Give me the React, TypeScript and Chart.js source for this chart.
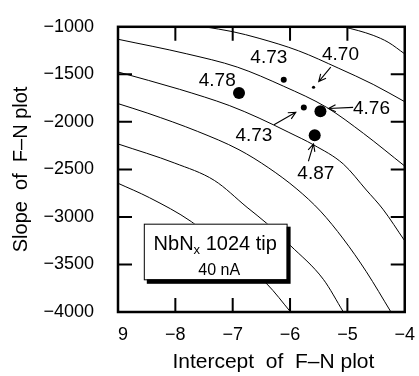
import React, { useEffect, useRef } from "react";
import { Chart, registerables } from "chart.js";

Chart.register(...registerables);

const FONT = "'Liberation Sans', Arial, Helvetica, sans-serif";

// ---- axes ----
const xMin = -9;
const xMax = -4;
const yMin = -4000;
const yMax = -1000;
const xTickValues = [-9, -8, -7, -6, -5, -4];
const xTickLabels = ["\u20079", "\u22128", "\u22127", "\u22126", "\u22125", "\u22124"];
const yTickValues = [-4000, -3500, -3000, -2500, -2000, -1500, -1000];
const yTickLabels = ["\u22124000", "\u22123500", "\u22123000", "\u22122500", "\u22122000", "\u22121500", "\u22121000"];
const xTitle = "Intercept  of  F\u2013N plot";
const yTitle = "Slope  of  F\u2013N plot";

// ---- contour curves ----
const curve1X = [-5.07, -4.81, -4.55, -4.29, -4.0];
const curve1Y = [-1000, -1040, -1090, -1162, -1285];
const curve2X = [-7.49, -7.01, -6.54, -5.85, -5.16, -4.55, -4.0];
const curve2Y = [-1000, -1050, -1121, -1253, -1434, -1606, -1788];
const curve3X = [-9.0, -7.81, -6.92, -6.11, -5.36, -4.72, -4.0];
const curve3Y = [-1131, -1283, -1424, -1626, -1848, -2121, -2465];
const curve4X = [-9.0, -7.93, -7.06, -6.54, -6.02, -5.59, -5.07, -4.67, -4.38, -4.0];
const curve4Y = [-1475, -1657, -1828, -1960, -2111, -2242, -2444, -2717, -2919, -3252];
const curve5X = [-9.0, -8.48, -7.61, -6.89, -6.37, -5.88, -5.47, -5.07, -4.67, -4.24];
const curve5Y = [-1808, -1909, -2101, -2293, -2485, -2707, -2939, -3232, -3576, -4000];
const curve6X = [-9.0, -8.01, -7.32, -6.75, -6.40, -5.99, -5.42, -5.07];
const curve6Y = [-2232, -2434, -2616, -2899, -3071, -3303, -3656, -4000];
const curve7X = [-9.0, -8.45, -7.72, -7.06, -6.40, -5.99];
const curve7Y = [-2646, -2798, -3050, -3374, -3707, -4000];

const curvesX = [curve1X, curve2X, curve3X, curve4X, curve5X, curve6X, curve7X];
const curvesY = [curve1Y, curve2Y, curve3Y, curve4Y, curve5Y, curve6Y, curve7Y];

// ---- measured points ----
const pointX = [-6.89, -6.11, -5.59, -5.76, -5.47, -5.57];
const pointY = [-1697, -1556, -1636, -1848, -1889, -2141];
const pointLabels = ["4.78", "4.73", "4.70", "4.73", "4.76", "4.87"];

// ---- annotations (data coordinates) ----
const labelX = [-7.27, -6.37, -5.12, -6.63, -4.58, -5.55];
const labelY = [-1566, -1323, -1293, -2141, -1859, -2545];
// arrows: [fromX, fromY, toX, toY]
const arrows = [
  [-5.29, -1424, -5.50, -1576],
  [-4.90, -1848, -5.33, -1859],
  [-6.28, -2030, -5.90, -1899],
  [-5.68, -2414, -5.59, -2232],
];
const boxCorners = [-8.55, -3071, -6.06, -3656];
const boxLine1 = ["NbN", "x", " 1024 tip"];
const boxLine2 = "40 nA";

// ---- styles ----
const dotRadius = [6, 3, 1.6, 3, 6, 6];

export default function App() {
  const canvasRef = useRef<HTMLCanvasElement | null>(null);

  useEffect(() => {
    const canvas = canvasRef.current;
    if (!canvas) return;

    const decor = {
      id: "decor",
      afterDatasetsDraw(chart: any) {
        const ctx = chart.ctx;
        const xs = chart.scales.x;
        const ys = chart.scales.y;
        const a = chart.chartArea;
        ctx.save();
        ctx.strokeStyle = "#000";
        ctx.fillStyle = "#000";

        // frame
        ctx.lineWidth = 2.5;
        ctx.strokeRect(a.left, a.top, a.right - a.left, a.bottom - a.top);

        // inward ticks
        ctx.lineWidth = 2;
        const tl = 14;
        xTickValues.forEach((v) => {
          if (v === xMin || v === xMax) return;
          const px = xs.getPixelForValue(v);
          ctx.beginPath();
          ctx.moveTo(px, a.bottom);
          ctx.lineTo(px, a.bottom - tl);
          ctx.moveTo(px, a.top);
          ctx.lineTo(px, a.top + tl);
          ctx.stroke();
        });
        yTickValues.forEach((v) => {
          if (v === yMin || v === yMax) return;
          const py = ys.getPixelForValue(v);
          ctx.beginPath();
          ctx.moveTo(a.left, py);
          ctx.lineTo(a.left + tl, py);
          ctx.moveTo(a.right, py);
          ctx.lineTo(a.right - tl, py);
          ctx.stroke();
        });

        // legend box with shadow
        const bx0 = xs.getPixelForValue(boxCorners[0]);
        const by0 = ys.getPixelForValue(boxCorners[1]);
        const bx1 = xs.getPixelForValue(boxCorners[2]);
        const by1 = ys.getPixelForValue(boxCorners[3]);
        ctx.fillStyle = "#000";
        ctx.fillRect(bx0 + 3, by0 + 3, bx1 - bx0 + 1, by1 - by0 + 1.5);
        ctx.fillStyle = "#fff";
        ctx.fillRect(bx0, by0, bx1 - bx0, by1 - by0);
        ctx.lineWidth = 1;
        ctx.strokeRect(bx0 + 0.5, by0 + 0.5, bx1 - bx0, by1 - by0);

        ctx.fillStyle = "#000";
        ctx.textBaseline = "alphabetic";
        ctx.textAlign = "left";
        const bigFont = "20px " + FONT;
        const subFont = "13px " + FONT;
        ctx.font = bigFont;
        const w0 = ctx.measureText(boxLine1[0]).width;
        const w2 = ctx.measureText(boxLine1[2]).width;
        ctx.font = subFont;
        const w1 = ctx.measureText(boxLine1[1]).width;
        const cx = (bx0 + bx1) / 2;
        let tx = cx - (w0 + w1 + w2) / 2;
        const base1 = by0 + 26;
        ctx.font = bigFont;
        ctx.fillText(boxLine1[0], tx, base1);
        tx += w0;
        ctx.font = subFont;
        ctx.fillText(boxLine1[1], tx, base1 + 4);
        tx += w1;
        ctx.font = bigFont;
        ctx.fillText(boxLine1[2], tx, base1);
        ctx.font = "16px " + FONT;
        ctx.textAlign = "center";
        ctx.fillText(boxLine2, cx + 4, by0 + 51);

        // point labels
        ctx.font = "19px " + FONT;
        ctx.textAlign = "center";
        ctx.textBaseline = "middle";
        pointLabels.forEach((t, i) => {
          ctx.fillText(t, xs.getPixelForValue(labelX[i]), ys.getPixelForValue(labelY[i]));
        });

        // arrows
        ctx.lineWidth = 1.1;
        arrows.forEach((ar) => {
          const x0 = xs.getPixelForValue(ar[0]);
          const y0 = ys.getPixelForValue(ar[1]);
          const x1 = xs.getPixelForValue(ar[2]);
          const y1 = ys.getPixelForValue(ar[3]);
          const ang = Math.atan2(y1 - y0, x1 - x0);
          const hl = 8;
          const sp = 0.45;
          ctx.beginPath();
          ctx.moveTo(x0, y0);
          ctx.lineTo(x1, y1);
          ctx.moveTo(x1 - hl * Math.cos(ang - sp), y1 - hl * Math.sin(ang - sp));
          ctx.lineTo(x1, y1);
          ctx.lineTo(x1 - hl * Math.cos(ang + sp), y1 - hl * Math.sin(ang + sp));
          ctx.stroke();
        });

        // axis titles
        ctx.font = "21px " + FONT;
        ctx.textAlign = "center";
        ctx.textBaseline = "middle";
        ctx.fillText(xTitle, (a.left + a.right) / 2 + 12, 362);
        ctx.font = "20px " + FONT;
        ctx.save();
        ctx.translate(21, (a.top + a.bottom) / 2);
        ctx.rotate(-Math.PI / 2);
        ctx.fillText(yTitle, 0, 0);
        ctx.restore();

        ctx.restore();
      },
    };

    const datasets: any[] = curvesX.map((cx, i) => ({
      data: cx.map((x, j) => ({ x, y: curvesY[i][j] })),
      showLine: true,
      borderColor: "#000",
      borderWidth: 1,
      pointRadius: 0,
      cubicInterpolationMode: "monotone",
      fill: false,
    }));
    datasets.push({
      data: pointX.map((x, j) => ({ x, y: pointY[j] })),
      showLine: false,
      pointRadius: dotRadius,
      pointBackgroundColor: "#000",
      pointBorderColor: "#000",
      pointBorderWidth: 0,
    });

    const chart = new Chart(canvas, {
      type: "scatter",
      data: { datasets },
      options: {
        animation: false,
        responsive: true,
        maintainAspectRatio: false,
        layout: { padding: { top: 15, right: 12, left: 0, bottom: 0 } },
        plugins: { legend: { display: false }, tooltip: { enabled: false } },
        scales: {
          x: {
            type: "linear",
            min: xMin,
            max: xMax,
            afterBuildTicks: (s: any) => {
              s.ticks = xTickValues.map((v) => ({ value: v }));
            },
            afterFit: (s: any) => {
              s.height = 64;
            },
            grid: { display: false },
            border: { display: false },
            ticks: {
              padding: 4,
              color: "#000",
              font: { family: FONT, size: 18 },
              maxRotation: 0,
              autoSkip: false,
              callback: (v: any) => xTickLabels[xTickValues.indexOf(Number(v))] ?? "",
            },
          },
          y: {
            type: "linear",
            min: yMin,
            max: yMax,
            afterBuildTicks: (s: any) => {
              s.ticks = yTickValues.map((v) => ({ value: v }));
            },
            afterFit: (s: any) => {
              s.width = 118;
            },
            grid: { display: false },
            border: { display: false },
            ticks: {
              padding: 16,
              color: "#000",
              font: { family: FONT, size: 18 },
              autoSkip: false,
              callback: (v: any) => yTickLabels[yTickValues.indexOf(Number(v))] ?? "",
            },
          },
        },
      },
      plugins: [decor],
    });

    return () => chart.destroy();
  }, []);

  return (
    <div style={{ position: "absolute", left: 0, top: 0, width: 419, height: 376, background: "#fff" }}>
      <canvas ref={canvasRef} />
    </div>
  );
}
